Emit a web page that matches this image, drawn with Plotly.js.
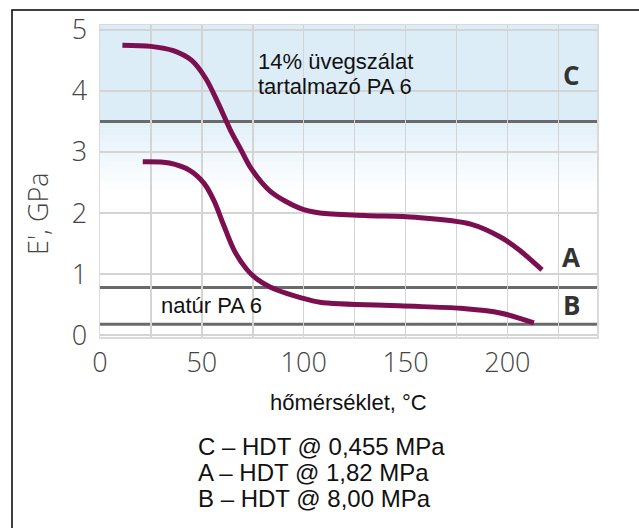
<!DOCTYPE html>
<html>
<head>
<meta charset="utf-8">
<script src="https://cdn.plot.ly/plotly-3.0.1.min.js"></script>
<style>html,body{margin:0;padding:0;background:#fff;}#chart{width:639px;height:528px;}</style>
</head>
<body>
<div id="chart"></div>
<script>
// Data
const glassT = [11, 25, 36, 45, 52, 58, 64, 69, 74, 83.5, 98, 108, 130, 155, 182, 197, 206, 217];
const glassE = [4.75, 4.73, 4.66, 4.5, 4.2, 3.8, 3.36, 3.05, 2.74, 2.36, 2.08, 2.0, 1.96, 1.93, 1.82, 1.6, 1.39, 1.07];
const naturT = [21, 34, 44, 51, 56, 60.5, 66, 72, 77, 83.5, 92, 98, 108, 147, 177, 197, 213];
const naturE = [2.84, 2.82, 2.70, 2.49, 2.2, 1.82, 1.38, 1.08, 0.92, 0.79, 0.68, 0.62, 0.54, 0.48, 0.44, 0.36, 0.2];
const hdtNames = ['C', 'A', 'B'];
const hdtLevels = [3.5, 0.78, 0.18];
const hdtNotes = ['C – HDT @ 0,455 MPa', 'A – HDT @ 1,82 MPa', 'B – HDT @ 8,00 MPa'];
const glassLabel = ['14% üvegszálat', 'tartalmazó PA 6'];
const xTicks = [0, 50, 100, 150, 200];
const yTicks = [0, 1, 2, 3, 4, 5];

const X0 = 0, X1 = 244, Y0 = -0.03, Y1 = 5.08;
const curveColor = '#7b0f50';

// plot area in pixels (for placing texts)
const PL = 100, PR = 597, PT = 25, PB = 337;
const px = v => (v - PL) / (PR - PL);
const py = v => (PB - v) / (PB - PT);

const traces = [
  {x: glassT, y: glassE, mode: 'lines', line: {color: curveColor, width: 5, shape: 'spline', smoothing: 0.9}, hoverinfo: 'skip'},
  {x: naturT, y: naturE, mode: 'lines', line: {color: curveColor, width: 5, shape: 'spline', smoothing: 0.9}, hoverinfo: 'skip'}
];

const shapes = [];
shapes.push({type: 'rect', xref: 'paper', yref: 'y', x0: 0, x1: 1, y0: hdtLevels[0], y1: Y1, fillcolor: '#dcedf8', line: {width: 0}, layer: 'below'});
const steps = 10;
for (let i = 0; i < steps; i++) {
  const top = hdtLevels[0] - i * 0.11;
  shapes.push({type: 'rect', xref: 'paper', yref: 'y', x0: 0, x1: 1, y0: top - 0.11, y1: top,
    fillcolor: 'rgba(220,237,248,' + (0.8 * (1 - i / steps)).toFixed(3) + ')', line: {width: 0}, layer: 'below'});
}
hdtLevels.forEach(v => {
  shapes.push({type: 'line', xref: 'paper', yref: 'y', x0: 0, x1: 1, y0: v, y1: v, line: {color: '#6a6a6a', width: 3}, layer: 'between'});
});
// outer frame (right and bottom edges fall outside the picture)
shapes.push({type: 'rect', xref: 'paper', yref: 'paper', x0: px(12), x1: px(650), y0: py(545), y1: py(10),
  line: {color: '#000', width: 1.5}, fillcolor: 'rgba(0,0,0,0)'});

const sans = 'Liberation Sans, Arial, sans-serif';
const ann = (x, y, text, font, extra) => Object.assign({xref: 'paper', yref: 'paper', x: px(x), y: py(y), text: text,
  showarrow: false, xanchor: 'center', yanchor: 'middle', font: font}, extra || {});
const annotations = [
  ann(335, 61, glassLabel[0], {family: sans, size: 22, color: '#111'}),
  ann(335, 86, glassLabel[1], {family: sans, size: 22, color: '#111'}),
  ann(211, 305, 'natúr PA 6', {family: sans, size: 22, color: '#111'}),
  ann(348, 402, 'hőmérséklet, °C', {family: sans, size: 22, color: '#111'}),
  ann(37, 214, "E', GPa", {family: 'Open Sans', size: 27, color: '#444', weight: 300}, {textangle: -90})
];
const letterY = [75, 257, 305];
hdtNames.forEach((n, i) => {
  annotations.push(ann(571, letterY[i], '<b>' + n + '</b>', {family: 'Open Sans', size: 26, color: '#333'}));
});
const noteY = [446, 472, 498];
hdtNotes.forEach((t, i) => {
  annotations.push(ann(196, noteY[i], t, {family: sans, size: 24, color: '#111'}, {xanchor: 'left'}));
});

const tickFont = {family: 'Open Sans', size: 27, color: '#444', weight: 300};
const layout = {
  width: 639, height: 528,
  margin: {l: PL, r: 639 - PR, t: PT, b: 528 - PB, pad: 0},
  paper_bgcolor: '#fff', plot_bgcolor: '#fff',
  showlegend: false,
  xaxis: {range: [X0, X1], tickvals: xTicks, ticktext: xTicks.map(String),
    showgrid: true, gridcolor: '#d4d4d4', gridwidth: 1.5, zeroline: false,
    showline: true, linecolor: '#dadada', linewidth: 1.5, mirror: true,
    ticks: '', ticklabelstandoff: 1,
    minor: {dtick: 25, tick0: 0, showgrid: true, gridcolor: '#d4d4d4', gridwidth: 1.5},
    tickfont: tickFont},
  yaxis: {range: [Y0, Y1], tickvals: yTicks,
    showgrid: true, gridcolor: '#d4d4d4', gridwidth: 1.5, zeroline: false,
    showline: true, linecolor: '#dadada', linewidth: 1.5, mirror: true,
    ticks: '', ticklabelstandoff: 6,
    tickfont: tickFont},
  shapes: shapes,
  annotations: annotations
};

Plotly.newPlot('chart', traces, layout, {displayModeBar: false, staticPlot: true});
</script>
</body>
</html>
